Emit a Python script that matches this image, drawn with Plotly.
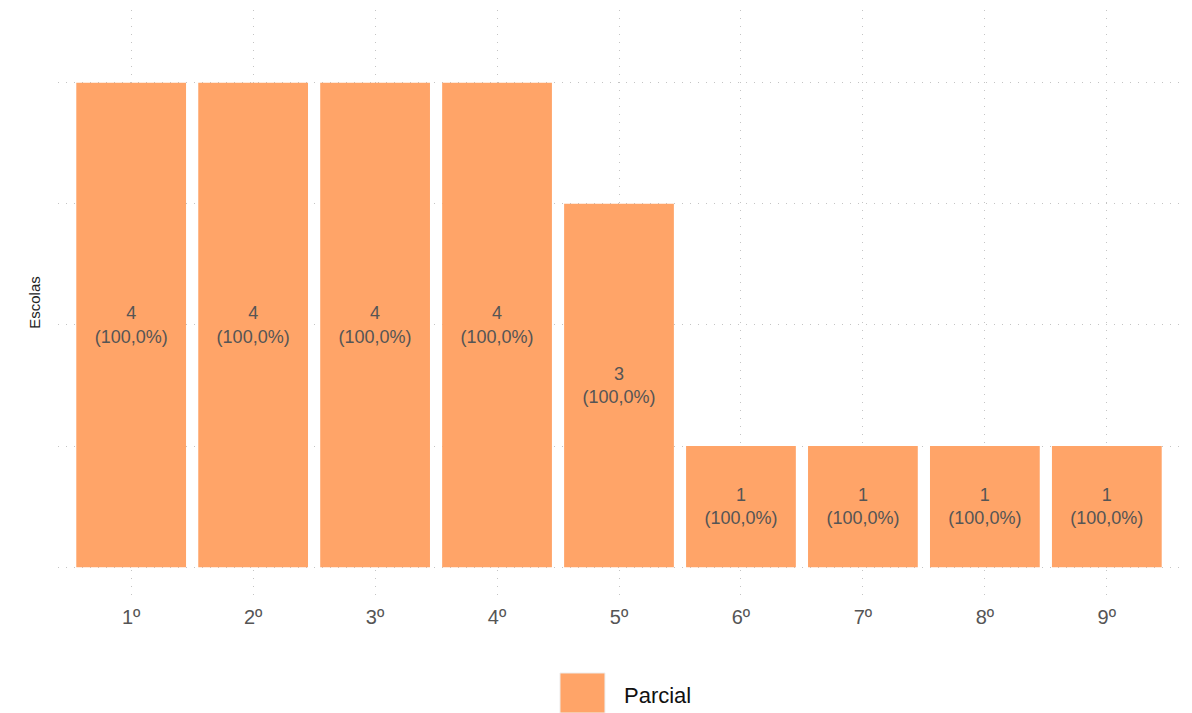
import plotly.graph_objects as go

anos = ["1º", "2º", "3º", "4º", "5º", "6º", "7º", "8º", "9º"]
escolas = [4, 4, 4, 4, 3, 1, 1, 1, 1]
percentual = [100.0, 100.0, 100.0, 100.0, 100.0, 100.0, 100.0, 100.0, 100.0]
serie = "Parcial"

cor = "#FFA468"
grade = "#c4c4c4"

rotulos = [f"{v}<br>({p:.1f}%)".replace(".", ",") for v, p in zip(escolas, percentual)]

fig = go.Figure()
fig.add_trace(go.Bar(
    x=anos,
    y=escolas,
    name=serie,
    marker=dict(color=cor, line=dict(width=0)),
    width=0.9,
    text=rotulos,
    textposition="inside",
    insidetextanchor="middle",
    textangle=0,
    textfont=dict(size=18, color="#555555", family="Liberation Sans"),
    showlegend=False,
    hoverinfo="skip",
))

# a pagina tem 8px de margem no body, por isso as margens estao deslocadas
fig.update_layout(
    width=1192,
    height=713,
    margin=dict(l=50, r=20, t=2, b=126),
    plot_bgcolor="white",
    paper_bgcolor="white",
    font=dict(family="Liberation Sans", color="#555555"),
    showlegend=False,
)

fig.update_xaxes(
    range=[-0.6, 8.6],
    showgrid=True,
    gridcolor=grade,
    griddash="1px,7px",
    gridwidth=1,
    layer="above traces",
    showline=False,
    zeroline=False,
    ticks="",
    tickfont=dict(size=20, color="#555555"),
    ticklabelstandoff=8,
)

fig.update_yaxes(
    range=[-0.23, 4.6],
    tickvals=[0, 1, 2, 3, 4],
    showticklabels=False,
    showgrid=True,
    gridcolor=grade,
    griddash="1px,7px",
    gridwidth=1,
    layer="above traces",
    zeroline=False,
    showline=False,
    title=dict(text="Escolas", font=dict(size=15, color="#222222"), standoff=12),
)

# legenda desenhada à mão (o quadrado do plotly é pequeno demais)
fig.add_shape(type="rect", xref="paper", yref="paper",
              x0=0.4474, x1=0.4875, y0=-0.1333, y1=-0.2017,
              fillcolor=cor, line=dict(color="#eeeeee", width=1))
fig.add_annotation(text=serie, xref="paper", yref="paper",
                   x=0.5027, y=-0.171, xanchor="left", yanchor="middle",
                   showarrow=False, font=dict(size=22, color="#111111"))

fig.write_html("out.html")
